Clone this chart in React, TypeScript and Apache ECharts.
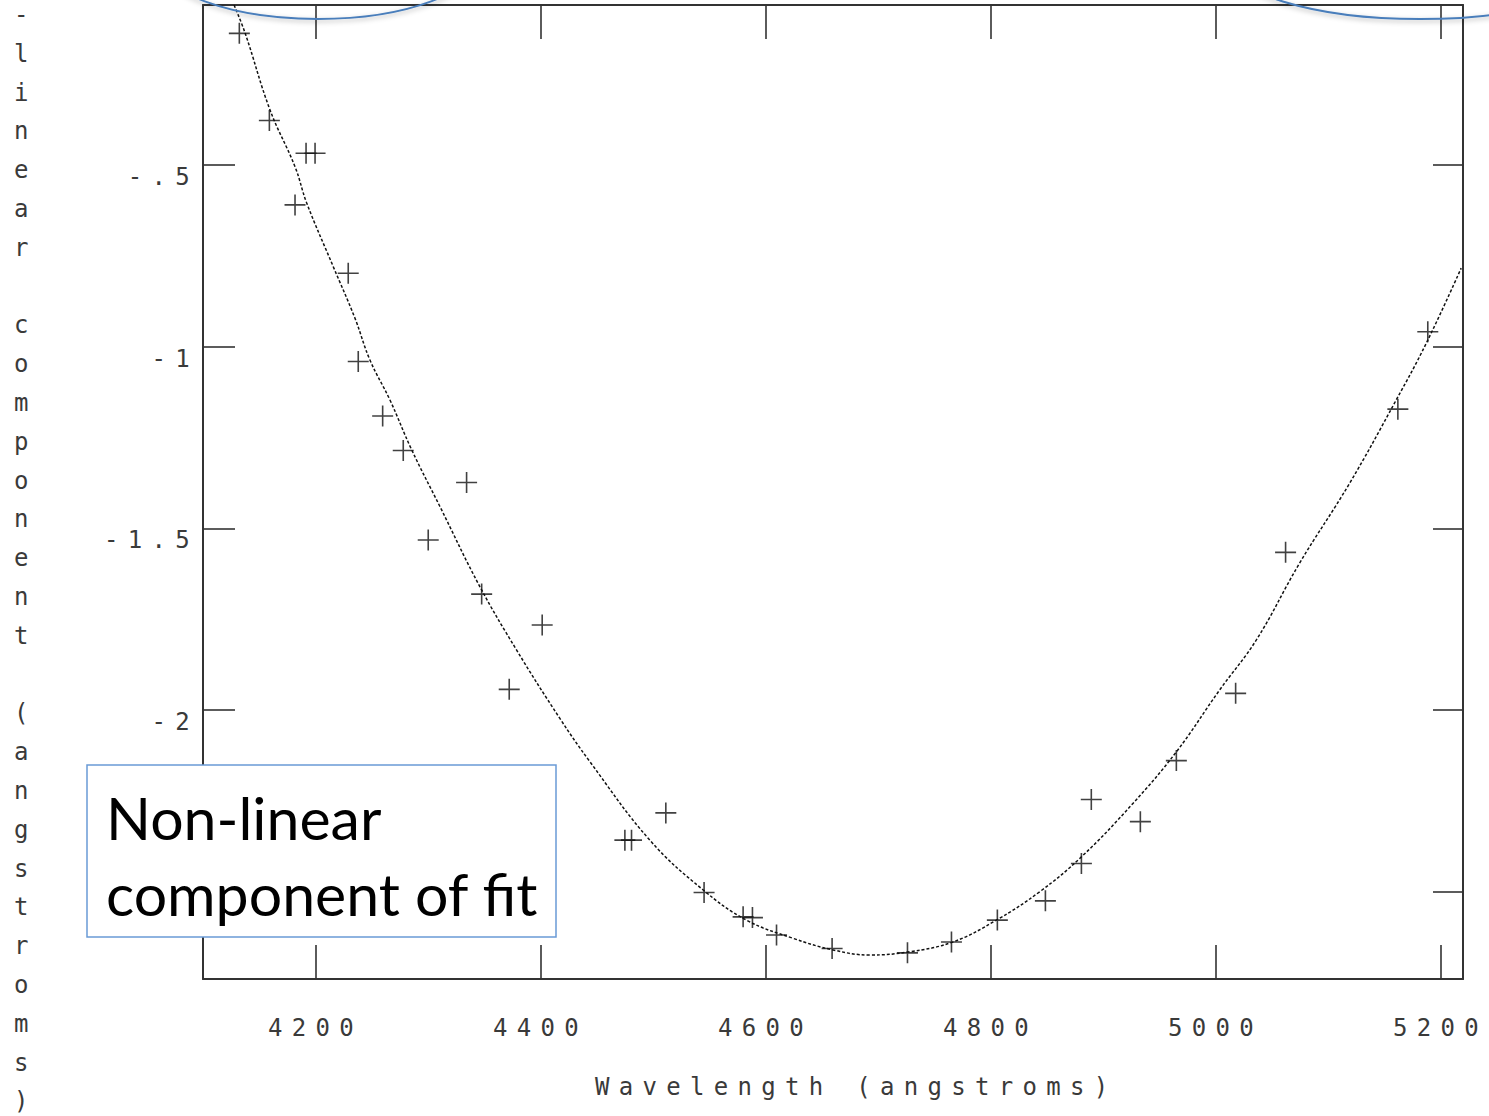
import React, { useEffect, useRef } from 'react';
import * as echarts from 'echarts';

// ---- data ----
const xTickValues = [4200, 4400, 4600, 4800, 5000, 5200];
const yTickValues = [-2.5, -2, -1.5, -1, -0.5];
const yLabelValues = [-2, -1.5, -1, -0.5];

// measured points (crosses)
const measWavelength = [
  4132.3, 4159.0, 4191.6, 4199.6, 4181.8, 4229.1, 4238.0, 4259.7, 4278.0, 4334.3,
  4300.2, 4347.7, 4401.5, 4372.2, 4475.0, 4480.9, 4511.4, 4545.4, 4580.1, 4588.4,
  4609.8, 4659.2, 4726.2, 4765.3, 4806.1, 4848.8, 4880.8, 4889.6, 4933.2, 4965.2,
  5017.9, 5062.3, 5162.1, 5188.7,
];
const measComponent = [
  -0.138, -0.378, -0.468, -0.468, -0.61, -0.798, -1.041, -1.191, -1.286, -1.374,
  -1.532, -1.681, -1.766, -1.943, -2.358, -2.358, -2.283, -2.502, -2.569, -2.571,
  -2.619, -2.656, -2.668, -2.638, -2.578, -2.525, -2.422, -2.246, -2.307, -2.139,
  -1.954, -1.566, -1.172, -0.959,
];

// fitted curve (dotted line)
const fitWavelength = [
  4127.6, 4137.4, 4159.6, 4181.8, 4192.2, 4215.8, 4235.1, 4248.4, 4266.2, 4285.5,
  4310.6, 4346.2, 4378.8, 4417.2, 4443.9, 4497.2, 4544.6, 4583.1, 4624.5, 4660.1,
  4692.7, 4728.2, 4766.7, 4805.2, 4843.7, 4880.8, 4926.6, 4965.2, 5003.6, 5036.3,
  5074.7, 5119.2, 5160.6, 5187.3, 5218.4,
];
const fitComponent = [
  -0.06, -0.137, -0.349, -0.505, -0.605, -0.78, -0.922, -1.037, -1.147, -1.284,
  -1.44, -1.661, -1.835, -2.023, -2.142, -2.358, -2.495, -2.578, -2.628, -2.66,
  -2.674, -2.665, -2.638, -2.578, -2.5, -2.404, -2.257, -2.115, -1.945, -1.807,
  -1.596, -1.376, -1.147, -0.991, -0.784,
];

const xTitle = 'Wavelength (angstroms)';
const yTitle = '-linear component (angstroms)';
const boxText = 'Non-linear\ncomponent of fit';

const MONO = '"DejaVu Sans Mono"';
const AXIS_COLOR = '#333';
const TEXT_COLOR = '#3a3a3a';

export default function App() {
  const ref = useRef<HTMLDivElement>(null);

  useEffect(() => {
    document.body.style.margin = '0';
    if (!ref.current) return;
    const chart = echarts.init(ref.current, undefined, { renderer: 'svg' });

    const crossData = measWavelength.map((x, i) => [x, measComponent[i]]);
    const fitData = fitWavelength.map((x, i) => [x, fitComponent[i]]);

    const fmtY = (v: number) => String(v).replace('-0.', '-.');
    const fmtX = (v: number) => String(v);

    chart.setOption({
      animation: false,
      backgroundColor: '#fff',
      grid: { left: 203, right: 26, top: 5, bottom: 137, containLabel: false },
      xAxis: [
        {
          type: 'value',
          position: 'bottom',
          min: 4100,
          max: 5220,
          axisLine: { show: true, onZero: false, lineStyle: { color: AXIS_COLOR, width: 2 } },
          axisTick: { show: true, inside: true, length: 34, customValues: xTickValues, lineStyle: { color: AXIS_COLOR, width: 1.6 } },
          axisLabel: {
            show: true,
            customValues: xTickValues,
            formatter: fmtX,
            margin: 37,
            fontFamily: MONO,
            fontSize: 24,
            color: TEXT_COLOR,
          },
          splitLine: { show: false },
        },
        {
          type: 'value',
          position: 'top',
          min: 4100,
          max: 5220,
          axisLine: { show: true, onZero: false, lineStyle: { color: AXIS_COLOR, width: 2 } },
          axisTick: { show: true, inside: true, length: 34, customValues: xTickValues, lineStyle: { color: AXIS_COLOR, width: 1.6 } },
          axisLabel: { show: false },
          splitLine: { show: false },
        },
      ],
      yAxis: [
        {
          type: 'value',
          position: 'left',
          min: -2.74,
          max: -0.06,
          axisLine: { show: true, onZero: false, lineStyle: { color: AXIS_COLOR, width: 2 } },
          axisTick: { show: true, inside: true, length: 32, customValues: yTickValues, lineStyle: { color: AXIS_COLOR, width: 1.6 } },
          axisLabel: {
            show: true,
            customValues: yLabelValues,
            formatter: fmtY,
            margin: 4,
            fontFamily: MONO,
            fontSize: 24,
            color: TEXT_COLOR,
            verticalAlign: 'top',
          },
          splitLine: { show: false },
        },
        {
          type: 'value',
          position: 'right',
          min: -2.74,
          max: -0.06,
          axisLine: { show: true, onZero: false, lineStyle: { color: AXIS_COLOR, width: 2 } },
          axisTick: { show: true, inside: true, length: 30, customValues: yTickValues, lineStyle: { color: AXIS_COLOR, width: 1.6 } },
          axisLabel: { show: false },
          splitLine: { show: false },
        },
      ],
      series: [
        {
          type: 'line',
          name: 'fit',
          xAxisIndex: 0,
          yAxisIndex: 0,
          data: fitData,
          smooth: 0.4,
          showSymbol: false,
          symbol: 'none',
          lineStyle: { color: '#111', width: 1.5, type: [3, 2] },
          z: 2,
        },
        {
          type: 'scatter',
          name: 'data',
          xAxisIndex: 0,
          yAxisIndex: 0,
          data: crossData,
          symbol: 'path://M0,10L20,10M10,0L10,20',
          symbolSize: 21,
          itemStyle: { color: 'none', borderColor: '#111', borderWidth: 1.6 },
          z: 3,
        },
      ],
      graphic: [
        {
          type: 'ellipse',
          z: 50,
          shape: { cx: 318, cy: -41, rx: 160, ry: 60 },
          style: { fill: 'none', stroke: '#4a7ebb', lineWidth: 2, shadowBlur: 5, shadowColor: 'rgba(0,0,0,0.3)', shadowOffsetY: 2 },
        },
        {
          type: 'ellipse',
          z: 50,
          shape: { cx: 1420, cy: -41, rx: 194, ry: 60 },
          style: { fill: 'none', stroke: '#4a7ebb', lineWidth: 2, shadowBlur: 5, shadowColor: 'rgba(0,0,0,0.3)', shadowOffsetY: 2 },
        },
        {
          type: 'text',
          z: 40,
          x: 14,
          y: -4.5,
          style: {
            text: yTitle.split('').join('\n'),
            fontFamily: MONO,
            fontSize: 24,
            lineHeight: 38.8,
            fill: TEXT_COLOR,
            textAlign: 'left',
            textVerticalAlign: 'top',
          },
        },
        {
          type: 'text',
          z: 40,
          x: 595,
          y: 1087,
          style: {
            text: xTitle,
            fontFamily: MONO,
            fontSize: 24,
            fill: TEXT_COLOR,
            textAlign: 'left',
            textVerticalAlign: 'middle',
          },
        },
        {
          type: 'rect',
          z: 100,
          shape: { x: 87, y: 765, width: 469, height: 172 },
          style: { fill: '#fff', stroke: '#6a9bd6', lineWidth: 1.5 },
        },
        {
          type: 'text',
          z: 101,
          x: 106,
          y: 855,
          style: {
            text: boxText,
            fontFamily: 'Lato',
            fontSize: 59,
            lineHeight: 76,
            fill: '#000',
            textAlign: 'left',
            textVerticalAlign: 'middle',
          },
        },
      ],
    });

    return () => {
      chart.dispose();
    };
  }, []);

  return (
    <>
      <style>{'.nlchart text[style*="Mono"], .nlchart text[font-family*="Mono"] { letter-spacing: 9.3px; }'}</style>
      <div
        ref={ref}
        className="nlchart"
        style={{ position: 'absolute', left: 0, top: 0, width: 1489, height: 1116 }}
      />
    </>
  );
}
